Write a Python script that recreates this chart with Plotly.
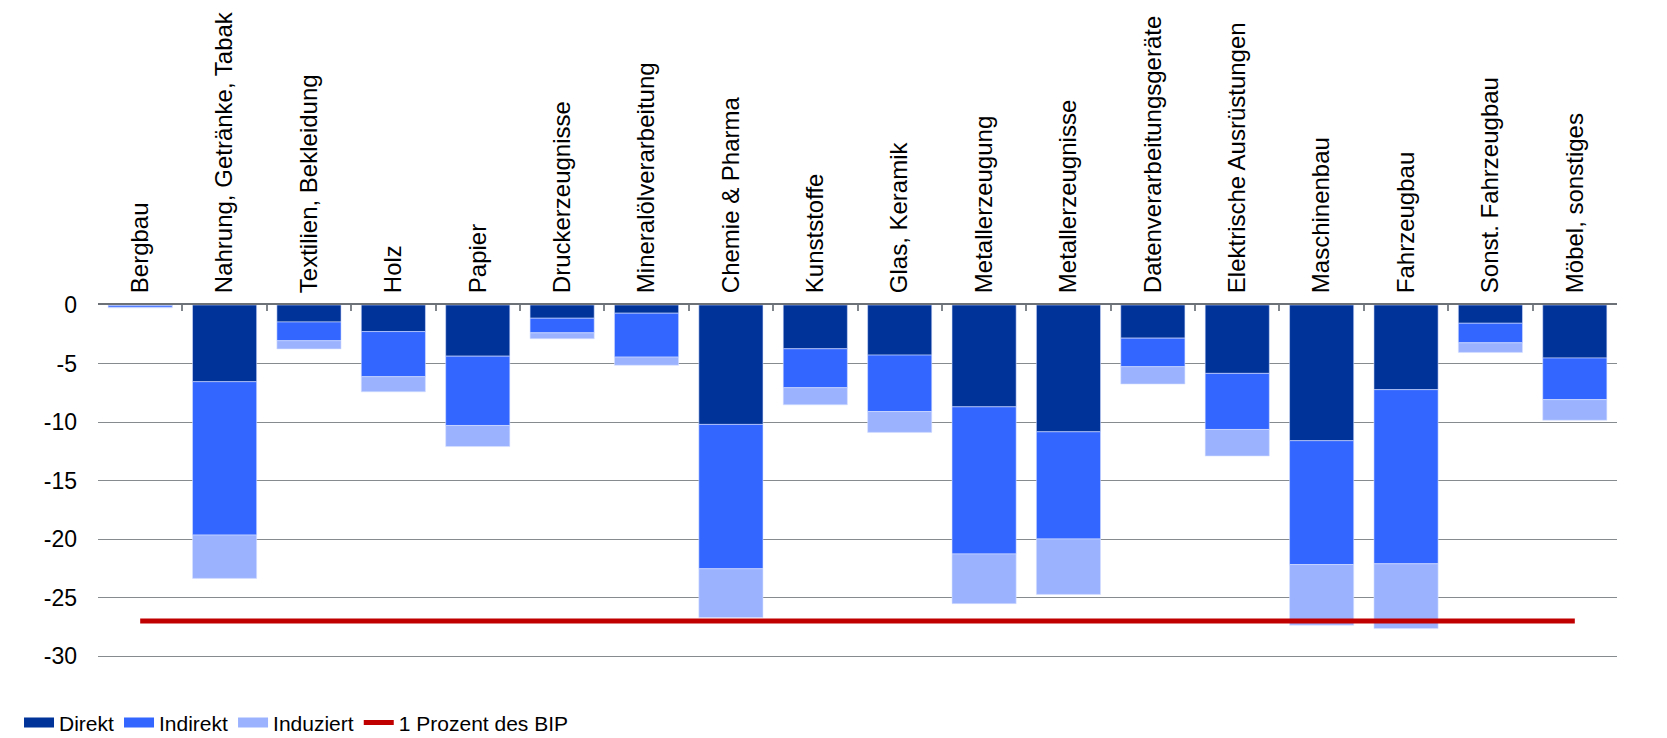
import plotly.graph_objects as go

# Sektoren des Verarbeitenden Gewerbes
sektoren = [
    "Bergbau", "Nahrung, Getränke, Tabak", "Textilien, Bekleidung", "Holz",
    "Papier", "Druckerzeugnisse", "Mineralölverarbeitung", "Chemie & Pharma",
    "Kunststoffe", "Glas, Keramik", "Metallerzeugung", "Metallerzeugnisse",
    "Datenverarbeitungsgeräte", "Elektrische Ausrüstungen", "Maschinenbau",
    "Fahrzeugbau", "Sonst. Fahrzeugbau", "Möbel, sonstiges",
]

# Effekte je Sektor (Mrd. Euro)
direkt = [-0.05, -6.55, -1.45, -2.27, -4.37, -1.13, -0.7, -10.2, -3.74,
          -4.28, -8.7, -10.83, -2.83, -5.84, -11.59, -7.23, -1.56, -4.53]
indirekt = [-0.15, -13.1, -1.6, -3.85, -5.92, -1.25, -3.75, -12.33, -3.32,
            -4.82, -12.56, -9.15, -2.44, -4.79, -10.58, -14.87, -1.67, -3.55]
induziert = [-0.05, -3.7, -0.7, -1.3, -1.8, -0.5, -0.7, -4.17, -1.47,
             -1.78, -4.25, -4.74, -1.48, -2.27, -5.18, -5.54, -0.82, -1.76]
bip_prozent = [-27.0] * len(sektoren)

y_ticks = [0, -5, -10, -15, -20, -25, -30]

FONT = "Liberation Sans, Arial, sans-serif"

serien = [
    ("Direkt", direkt, "#003399"),
    ("Indirekt", indirekt, "#3366FF"),
    ("Induziert", induziert, "#9BB3FF"),
]

fig = go.Figure()

for name, werte, farbe in serien:
    fig.add_trace(go.Bar(
        x=sektoren, y=werte, name=name, legendgroup=name, showlegend=False,
        marker=dict(color=farbe, line=dict(color="rgba(215,225,255,0.7)", width=0.8)),
    ))

# Legendeneinträge als breite Farbbalken
for name, werte, farbe in serien:
    fig.add_trace(go.Scatter(
        x=[None], y=[None], mode="lines", name=name, legendgroup=name,
        line=dict(color=farbe, width=13),
    ))

fig.add_trace(go.Scatter(
    x=sektoren, y=bip_prozent, mode="lines", name="1 Prozent des BIP",
    line=dict(color="#C00000", width=5), cliponaxis=False,
))

fig.update_layout(
    barmode="relative",
    bargap=0.24,
    width=1667, height=738,
    margin=dict(l=98, r=50, t=305, b=80, pad=0, autoexpand=False),
    paper_bgcolor="white", plot_bgcolor="white",
    font=dict(family=FONT, size=22, color="#000000"),
    showlegend=True,
    legend=dict(
        orientation="h", x=-0.052, xanchor="left", y=-0.184, yanchor="middle",
        font=dict(family=FONT, size=21, color="#000000"),
        itemwidth=30, tracegroupgap=0, traceorder="normal",
        bgcolor="rgba(0,0,0,0)",
    ),
    xaxis=dict(
        side="top", type="category", tickangle=-90,
        tickson="boundaries", ticks="inside", ticklen=6, tickwidth=1.5,
        tickcolor="#7f858a",
        showline=True, linecolor="#6b7176", linewidth=2,
        showgrid=False, zeroline=False,
        tickfont=dict(family=FONT, size=24, color="#000000"),
        ticklabelstandoff=5,
        fixedrange=True,
    ),
    yaxis=dict(
        range=[-30.15, 0], tickvals=y_ticks, ticktext=[str(v) for v in y_ticks],
        showgrid=True, gridcolor="#868b90", gridwidth=1.3,
        zeroline=False, showline=False, ticks="",
        tickfont=dict(family=FONT, size=23, color="#000000"),
        ticklabelstandoff=20,
        fixedrange=True,
    ),
)

fig.write_html("out.html")
